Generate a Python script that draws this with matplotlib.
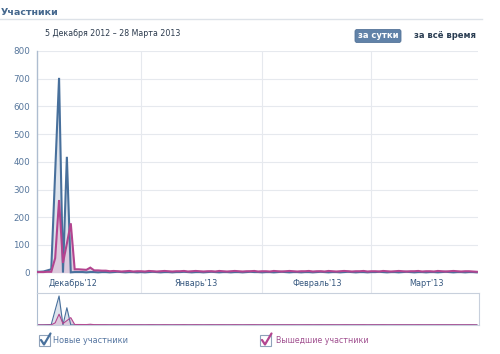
import matplotlib
matplotlib.use("Agg")
import matplotlib.pyplot as plt
from matplotlib.patches import Rectangle, FancyBboxPatch
import numpy as np
import pandas as pd

# ---------------- data ----------------
dates = pd.date_range("2012-12-05", "2013-03-28", freq="D")
new_members = [3, 3, 4, 8, 12, 360, 703, 0, 418, 1,
               2, 2, 2, 1, 2, 2, 1, 2, 2, 1,
               2, 3, 2, 1, 2, 2, 1, 2, 1, 2,
               3, 2, 1, 2, 2, 1, 2, 2, 3, 2,
               1, 2, 2, 1, 2, 3, 2, 1, 2, 2,
               1, 2, 2, 1, 2, 3, 2, 2, 1, 2,
               2, 1, 2, 3, 2, 1, 2, 2, 1, 2,
               2, 1, 2, 3, 2, 1, 2, 2, 1, 2,
               3, 2, 1, 2, 2, 1, 2, 2, 3, 2,
               1, 2, 2, 1, 2, 3, 2, 1, 2, 2,
               1, 2, 2, 1, 2, 3, 2, 1, 2, 2,
               1, 2, 2, 1]
left_members = [2, 2, 2, 3, 3, 52, 262, 35, 105, 178,
                12, 12, 11, 10, 18, 8, 8, 7, 7, 5,
                6, 5, 4, 5, 6, 4, 5, 5, 4, 6,
                5, 4, 5, 6, 5, 4, 5, 5, 6, 4,
                5, 6, 5, 4, 5, 5, 4, 6, 5, 4,
                5, 6, 5, 4, 5, 5, 6, 4, 5, 5,
                4, 6, 5, 4, 5, 6, 5, 4, 5, 5,
                6, 4, 5, 5, 4, 6, 5, 4, 5, 6,
                5, 4, 5, 5, 6, 4, 5, 5, 4, 6,
                5, 4, 5, 6, 5, 4, 5, 5, 6, 4,
                5, 5, 4, 6, 5, 4, 5, 6, 5, 4,
                5, 5, 4, 3]
yticks = [0, 100, 200, 300, 400, 500, 600, 700, 800]
month_labels = ["Декабрь'12", "Январь'13", "Февраль'13", "Март'13"]

title = "Участники"
period = "5 Декабря 2012 – 28 Марта 2013"
btn_active = "за сутки"
btn_other = "за всё время"
legend_labels = ["Новые участники", "Вышедшие участники"]

# ---------------- styling ----------------
plt.rcParams['font.family'] = ['DejaVu Sans']
BLUE = "#48709c"
PINK = "#b3448f"
BLUE_FILL = "#dde3ec"
PINK_FILL = "#dcc8dc"
AXIS = "#aebdd0"
GRID = "#e6e9ee"
TICK = "#56769c"

W, H = 500, 354
fig = plt.figure(figsize=(W / 100, H / 100), dpi=100)
fig.patch.set_facecolor("white")

def fx(px):
    return px / W

def fy(py):
    return 1 - py / H

x = np.arange(len(dates))
xl = (0.35, len(dates) - 0.7)
month_starts = [i for i, d in enumerate(dates) if d.day == 1]
label_pos = [9.7, 41.1, 72.1, 100.1]

L, R = 37, 478
# main axes
ax = fig.add_axes([fx(L), fy(274), fx(R - L), (274 - 51) / H])
ax.fill_between(x, new_members, 0, color=BLUE_FILL, lw=0, zorder=1)
ax.fill_between(x, left_members, 0, color=PINK_FILL, lw=0, alpha=0.9, zorder=2)
ax.plot(x, new_members, color=BLUE, lw=1.5, zorder=4, solid_joinstyle="miter")
ax.plot(x, left_members, color=PINK, lw=1.5, zorder=5, solid_joinstyle="miter")
ax.set_xlim(*xl)
ax.set_ylim(-5, 800)
ax.set_yticks(yticks)
ax.set_yticklabels([str(v) for v in yticks], color=TICK, fontsize=6.3)
ax.tick_params(axis="y", length=0, pad=5)
ax.set_xticks([])
for v in yticks[1:]:
    ax.axhline(v, color=GRID, lw=0.8, zorder=0)
for m in month_starts:
    ax.axvline(m, color=GRID, lw=0.8, zorder=0)
for s in ["top", "right", "bottom"]:
    ax.spines[s].set_visible(False)
ax.spines["left"].set_color(AXIS)
ax.spines["left"].set_linewidth(1)

# month label band
bx = fig.add_axes([fx(L), fy(293), fx(R - L), 19 / H])
bx.set_xlim(*xl)
bx.set_ylim(0, 1)
for m in month_starts:
    bx.axvline(m, color=GRID, lw=0.8)
for p, lab in zip(label_pos, month_labels):
    bx.text(p, 0.5, lab, ha="center", va="center", fontsize=5.9, color="#35577f")
bx.set_xticks([])
bx.set_yticks([])
for s in ["top", "right", "bottom"]:
    bx.spines[s].set_visible(False)
bx.spines["left"].set_color(AXIS)

# navigator
nx = fig.add_axes([fx(L), fy(325), fx(479 - L), 32 / H])
nx.fill_between(x, new_members, 0, color=BLUE_FILL, lw=0)
nx.fill_between(x, left_members, 0, color=PINK_FILL, lw=0, alpha=0.9)
nx.plot(x, new_members, color=BLUE, lw=0.8)
nx.plot(x, left_members, color=PINK, lw=0.8)
nx.set_xlim(xl[0], xl[1] + 0.25)
nx.set_ylim(0, 775)
nx.set_xticks([])
nx.set_yticks([])
for s in ["top", "right", "bottom"]:
    nx.spines[s].set_color("#c8d0dc")
nx.spines["left"].set_color(AXIS)

# overlay for decorations
ov = fig.add_axes([0, 0, 1, 1], zorder=-1)
ov.set_xlim(0, W)
ov.set_ylim(H, 0)
ov.axis("off")
ov.text(1, 12.5, title, fontsize=6.8, fontweight="bold", color="#45688e",
        ha="left", va="center")
ov.plot([0, 482], [19, 19], color="#dde2e8", lw=1)
ov.text(45, 33.5, period, fontsize=5.7, color="#2b3a4d", ha="left", va="center")
ov.add_patch(FancyBboxPatch((355, 29.5), 46, 13, boxstyle="round,pad=0,rounding_size=2",
                            fc="#6182a8", ec="#557499", lw=0.6))
ov.text(378, 36, btn_active, fontsize=6.0, fontweight="bold", color="white",
        ha="center", va="center")
ov.text(414, 36, btn_other, fontsize=6.0, fontweight="bold", color="#2a3d52",
        ha="left", va="center")

# legend checkboxes
for (bxp, tx, col, tcol, lab, fs) in [(39, 53, BLUE, "#5575a0", legend_labels[0], 5.9),
                                      (260, 276, PINK, "#a04f8f", legend_labels[1], 5.7)]:
    ov.add_patch(Rectangle((bxp, 335), 11, 11, fc="white", ec="#8fa2ba", lw=0.8))
    ov.plot([bxp + 2, bxp + 5, bxp + 11.5], [340, 344.5, 333.5], color=col, lw=1.6,
            solid_capstyle="round")
    ov.text(tx, 340.5, lab, fontsize=fs, color=tcol, ha="left", va="center")

fig.savefig("out.png", dpi=100, facecolor="white")
